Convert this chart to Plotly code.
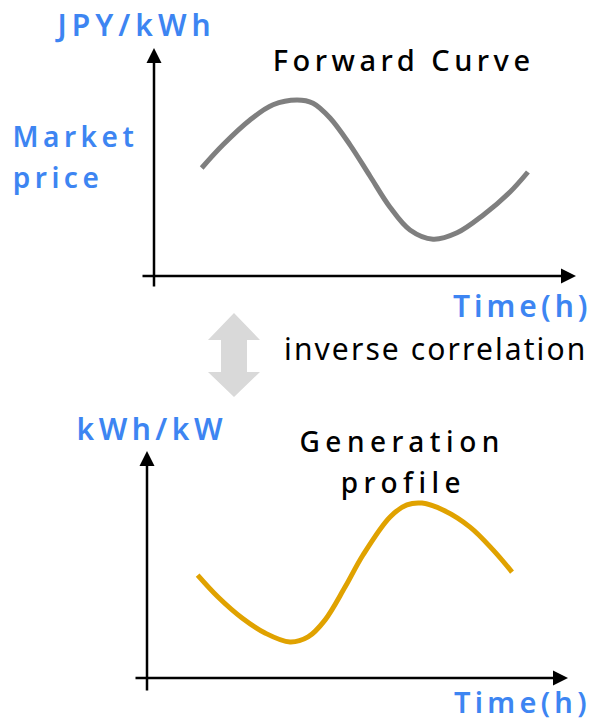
import json
import plotly.graph_objects as go

# ---------------- data ----------------
hours_top = [3.06, 4.43, 6.16, 7.64, 9.18, 10.21, 11.30, 12.58, 13.86, 15.15, 16.43, 17.91, 19.45, 21.12, 22.85, 24.0]
price_top = [13.5, 16.4, 19.5, 21.4, 22.0, 21.6, 19.75, 16.4, 12.5, 8.6, 5.75, 4.6, 5.4, 7.6, 10.5, 13.0]

hours_bot = [3.33, 4.67, 6.25, 7.76, 9.40, 10.59, 11.70, 13.02, 14.20, 15.98, 17.09, 18.08, 19.46, 21.24, 22.75, 24.0]
gen_bot = [0.343, 0.27, 0.20, 0.15, 0.12, 0.137, 0.193, 0.303, 0.41, 0.537, 0.577, 0.583, 0.56, 0.503, 0.427, 0.353]

top_title = "Forward Curve"
top_unit = "JPY/kWh"
top_ylabel = ["Market", "price"]
bot_title = ["Generation", "profile"]
bot_unit = "kWh/kW"
time_label = "Time(h)"
relation_label = "inverse correlation"

# ---------------- layout constants ----------------
W, H = 596, 722
BLUE = "#3D85F2"
GRAY = "#7F7F7F"
GOLD = "#E0A200"
LIGHT = "#D9D9D9"
FONT = "Noto Sans"


def fx(x):
    return x / W


def fy(y):
    return 1 - y / H


# pixel placement of the two axis origins and scales
T_OX, T_OY, T_SX, T_SY = 154, 276, 15.58, 8.0
B_OX, B_OY, B_SX, B_SY = 147, 678, 15.21, 300.0

fig = go.Figure()
fig.add_trace(go.Scatter(x=hours_top, y=price_top, mode="lines", xaxis="x", yaxis="y",
                         line=dict(color=GRAY, width=5, shape="spline", smoothing=1.0),
                         hoverinfo="skip", showlegend=False))
fig.add_trace(go.Scatter(x=hours_bot, y=gen_bot, mode="lines", xaxis="x2", yaxis="y2",
                         line=dict(color=GOLD, width=5, shape="spline", smoothing=1.0),
                         hoverinfo="skip", showlegend=False))

annotations = []
letter_spacing = []


def label(text, cx, cy, size, color, weight, ls):
    annotations.append(dict(text=text, x=fx(cx), y=fy(cy), xref="paper", yref="paper",
                            xanchor="center", yanchor="middle", showarrow=False,
                            font=dict(family=FONT, size=size, color=color, weight=weight)))
    letter_spacing.append(ls)


label(top_unit, 135, 24.5, 30, BLUE, 600, 5)
label(top_ylabel[0], 75, 136, 28, BLUE, 600, 4.5)
label(top_ylabel[1], 57.5, 177, 28, BLUE, 600, 4.5)
label(top_title, 403, 59.5, 29, "black", 500, 4.5)
label(time_label, 522, 306, 30, BLUE, 600, 4)
label(relation_label, 435, 348, 30, "black", 400, 2.1)
label(bot_unit, 152, 428, 30, BLUE, 600, 4.5)
label(bot_title[0], 402, 441, 28, "black", 500, 5.5)
label(bot_title[1], 403, 482, 28, "black", 500, 5.5)
label(time_label, 522, 701.5, 29, BLUE, 600, 4.3)


def axis_arrow(tip, tail):
    annotations.append(dict(text="", x=fx(tip[0]), y=fy(tip[1]), xref="paper", yref="paper",
                            ax=tail[0] - tip[0], ay=tail[1] - tip[1], axref="pixel", ayref="pixel",
                            showarrow=True, arrowhead=2, arrowsize=1.2, arrowwidth=2.5,
                            arrowcolor="black"))
    letter_spacing.append(0)


axis_arrow((T_OX, 48), (T_OX, 288))
axis_arrow((576, T_OY), (141, T_OY))
axis_arrow((B_OX, 451), (B_OX, 692))
axis_arrow((568, B_OY), (134, B_OY))

# light gray double arrow
pts = [(234, 313), (260, 340), (247, 340), (247, 372), (260, 372), (234, 397),
       (208, 372), (221, 372), (221, 340), (208, 340)]
path = "M " + " L ".join(f"{fx(x):.5f},{fy(y):.5f}" for x, y in pts) + " Z"
shapes = [dict(type="path", path=path, xref="paper", yref="paper",
               fillcolor=LIGHT, line=dict(width=0))]

fig.update_layout(
    width=W, height=H, margin=dict(l=0, r=0, t=0, b=0),
    paper_bgcolor="white", plot_bgcolor="rgba(0,0,0,0)",
    xaxis=dict(domain=[0, 1], range=[-T_OX / T_SX, (W - T_OX) / T_SX], visible=False, fixedrange=True),
    yaxis=dict(domain=[0, 1], range=[(T_OY - H) / T_SY, T_OY / T_SY], visible=False, anchor="x", fixedrange=True),
    xaxis2=dict(domain=[0, 1], range=[-B_OX / B_SX, (W - B_OX) / B_SX], visible=False, anchor="y2", fixedrange=True),
    yaxis2=dict(domain=[0, 1], range=[(B_OY - H) / B_SY, B_OY / B_SY], visible=False, anchor="x2", fixedrange=True),
    annotations=annotations, shapes=shapes, showlegend=False,
)

js = (
    "document.body.style.margin = '0';"
    "document.body.style.padding = '0';"
    "var gd = document.getElementById('{plot_id}');"
    "var ls = " + json.dumps(letter_spacing) + ";"
    "gd.querySelectorAll('g.annotation').forEach(function(g){"
    "var i = +g.getAttribute('data-index');"
    "if (ls[i]) { g.querySelectorAll('text').forEach(function(t){ t.style.letterSpacing = ls[i] + 'px'; }); }"
    "});"
)

fig.write_html("out.html", config={"displayModeBar": False, "staticPlot": True}, post_script=js)
